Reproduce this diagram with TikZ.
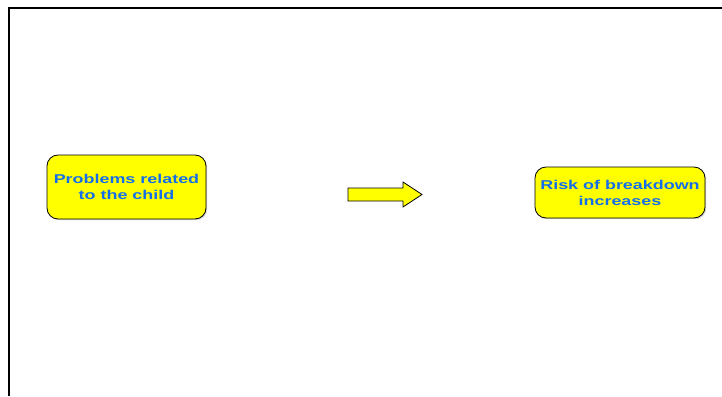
\documentclass[tikz,border=0pt]{standalone}
\usepackage{fontspec}
\setmainfont{Liberation Sans}
\newfontfamily\widesans[FakeStretch=1.4]{Liberation Sans}
\usetikzlibrary{shadows}
\definecolor{boxyellow}{RGB}{255,255,0}
\definecolor{textblue}{RGB}{20,110,235}
\begin{document}
\begin{tikzpicture}[x=1pt,y=-1pt,
  causebox/.style={draw=black,fill=boxyellow,rounded corners=11pt,line width=0.8pt,
    drop shadow={shadow xshift=1.2pt,shadow yshift=-1.2pt,opacity=0.35},
    align=center,inner sep=0pt,text=textblue,
    font=\widesans\fontsize{12.8}{16}\selectfont\bfseries}]
  \useasboundingbox (0,0) rectangle (722,396);
  \draw[line width=2pt] (9,396) -- (9,8) -- (722,8);
  \node[causebox,minimum width=159pt,minimum height=64pt] (child) at (126.5,187)
    {Problems related\\to the child};
  \node[causebox,minimum width=170pt,minimum height=51pt] (risk) at (620,192.5)
    {Risk of breakdown\\increases};
  \draw[fill=boxyellow,line width=0.8pt]
    (348,188) -- (403,188) -- (403,182) -- (422,194.5) -- (403,207)
    -- (403,201) -- (348,201) -- cycle;
\end{tikzpicture}
\end{document}
